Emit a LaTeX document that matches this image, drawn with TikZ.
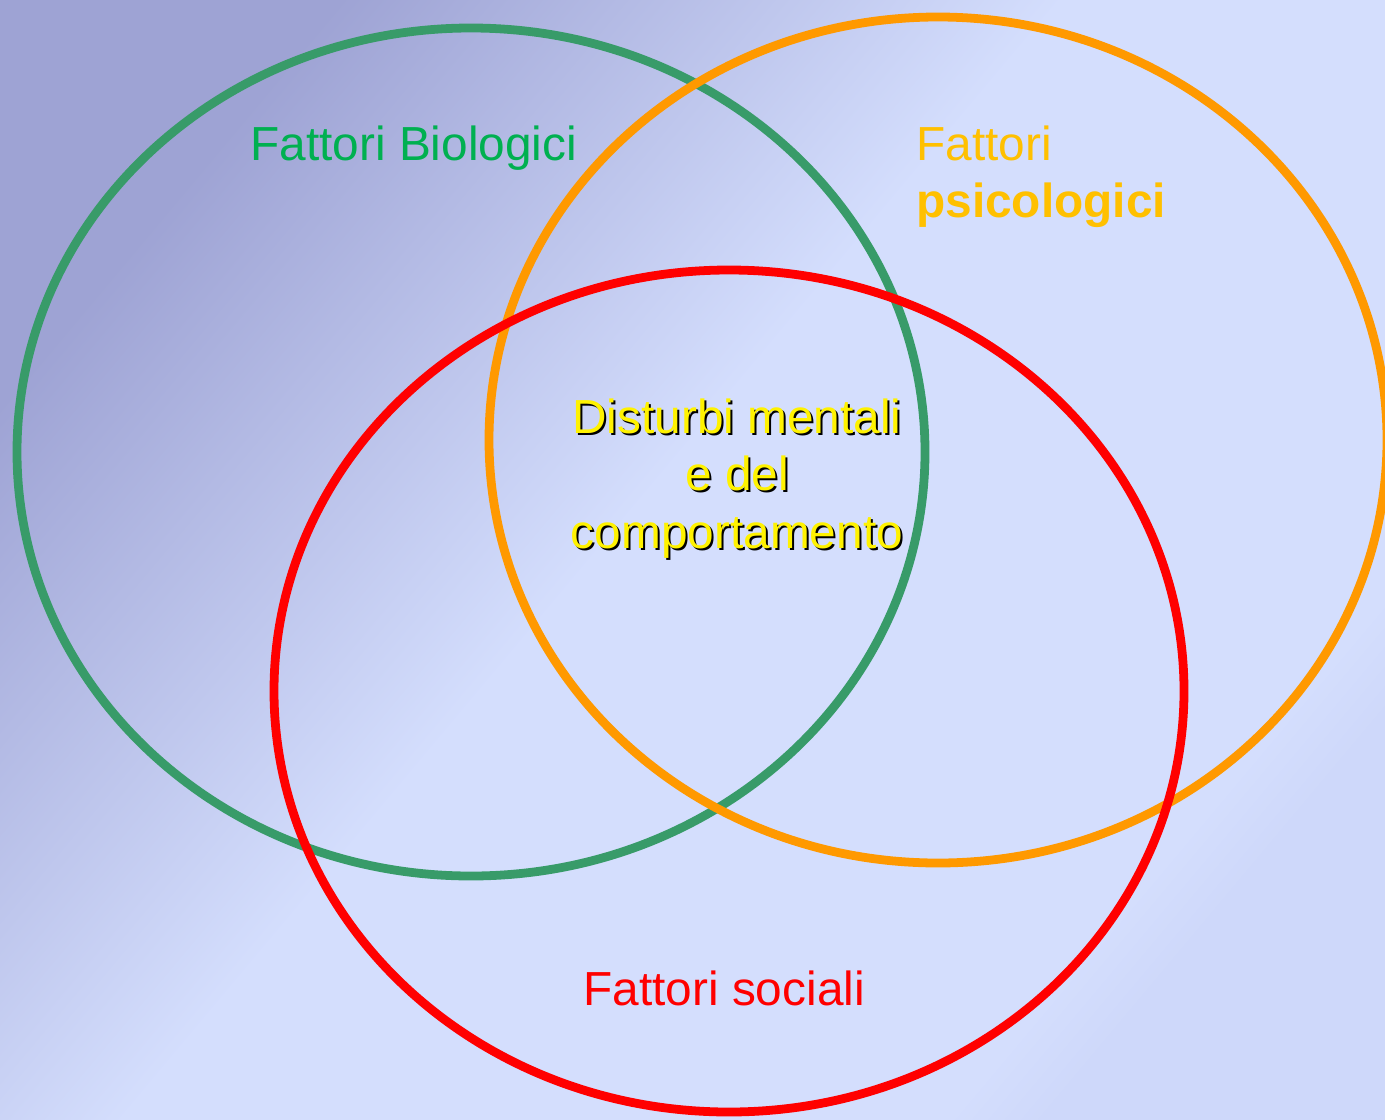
\documentclass[tikz,border=0pt]{standalone}
\usepackage{fontspec}
\setmainfont{Liberation Sans}
\usetikzlibrary{positioning}

\definecolor{bgdark}{RGB}{158,163,212}
\definecolor{bgmid}{RGB}{206,216,250}
\definecolor{bglight}{RGB}{212,222,253}
\definecolor{biogreen}{RGB}{56,155,105}
\definecolor{biotext}{RGB}{0,176,80}
\definecolor{psiorange}{RGB}{255,153,0}
\definecolor{psitext}{RGB}{255,192,0}
\definecolor{socred}{RGB}{255,0,0}

\pgfdeclarehorizontalshading{slidebg}{100bp}{color(0bp)=(bgdark); color(25bp)=(bgdark); color(47bp)=(bglight); color(72bp)=(bglight); color(75bp)=(bgmid); color(100bp)=(bgmid)}

\begin{document}
\begin{tikzpicture}[x=0.02cm, y=-0.02cm]

	\tikzstyle{ring} = [line width=5pt]
	\tikzstyle{label} = [inner sep=0pt, font=\fontsize{27.2}{32.7}\selectfont]

	% sfondo
	\shade[shading=slidebg, shading angle=-40] (0,0) rectangle (1385,1119);
	\useasboundingbox (0,0) rectangle (1385,1119);

	% cerchi
	\draw[ring, biogreen] (471,452) ellipse (454 and 424);
	\draw[ring, psiorange] (938,440) ellipse (449 and 423);
	\draw[ring, socred] (729,691) ellipse (455 and 421);

	% etichette
	\node[label, anchor=base west, text=biotext] (bio) at (250,160) {Fattori Biologici};
	\node[label, anchor=base west, text=psitext] (psi) at (916,160) {Fattori};
	\node[label, anchor=base west, text=psitext, font=\fontsize{27.2}{32.7}\selectfont\bfseries] (psib) at (916,217) {psicologici};
	\node[label, anchor=base west, text=socred] (soc) at (583,1005) {Fattori sociali};

	% testo centrale (base = ultima riga)
	\node[label, anchor=base, align=center, text=black] (dist-shadow) at (739,550) {Disturbi mentali\\e del\\comportamento};
	\node[label, anchor=base, align=center, text=yellow] (dist) at (737,548) {Disturbi mentali\\e del\\comportamento};

\end{tikzpicture}
\end{document}
